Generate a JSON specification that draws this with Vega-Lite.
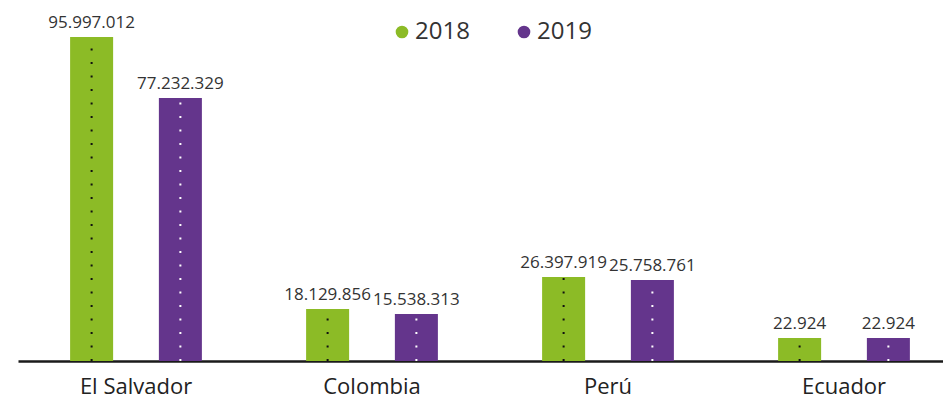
{
  "$schema": "https://vega.github.io/schema/vega-lite/v6.json",
  "width": 925,
  "height": 361,
  "autosize": {"type": "none"},
  "padding": {"left": 18, "top": 0, "right": 0, "bottom": 40},
  "config": {
    "view": {"stroke": null},
    "font": "Open Sans",
    "locale": {"number": {"decimal": ",", "thousands": ".", "grouping": [3], "currency": ["$", ""]}}
  },
  "data": {
    "values": [
      {"country": "El Salvador", "year": "2018", "value": 95997012, "bar": 96.0},
      {"country": "El Salvador", "year": "2019", "value": 77232329, "bar": 77.9},
      {"country": "Colombia", "year": "2018", "value": 18129856, "bar": 15.4},
      {"country": "Colombia", "year": "2019", "value": 15538313, "bar": 13.9},
      {"country": "Perú", "year": "2018", "value": 26397919, "bar": 24.9},
      {"country": "Perú", "year": "2019", "value": 25758761, "bar": 24.0},
      {"country": "Ecuador", "year": "2018", "value": 22924, "bar": 6.8},
      {"country": "Ecuador", "year": "2019", "value": 22924, "bar": 6.8}
    ]
  },
  "encoding": {
    "x": {
      "field": "country",
      "type": "nominal",
      "sort": null,
      "scale": {"range": [0, 944], "paddingInner": 0, "paddingOuter": 0},
      "axis": {
        "title": null,
        "labelAngle": 0,
        "ticks": false,
        "domainColor": "#1a1a1a",
        "domainWidth": 2.5,
        "labelFontSize": 22,
        "labelColor": "#222222",
        "labelPadding": 15
      }
    },
    "xOffset": {
      "field": "year",
      "type": "nominal",
      "scale": {"paddingInner": 0.5155, "paddingOuter": 0.587}
    },
    "y": {
      "field": "bar",
      "type": "quantitative",
      "scale": {"domain": [0, 106.96]},
      "axis": null
    }
  },
  "layer": [
    {
      "mark": {"type": "bar"},
      "encoding": {
        "color": {
          "field": "year",
          "type": "nominal",
          "scale": {"domain": ["2018", "2019"], "range": ["#8cbb26", "#64358c"]},
          "legend": {
            "orient": "none",
            "legendX": 372,
            "legendY": 20,
            "direction": "horizontal",
            "symbolType": "circle",
            "symbolSize": 160,
            "symbolStrokeWidth": 0,
            "labelFontSize": 24,
            "labelColor": "#333333",
            "title": null,
            "columnPadding": 42,
            "labelOffset": 1,
            "padding": 0
          }
        }
      }
    },
    {
      "mark": {"type": "rule", "strokeDash": [2, 11.5], "strokeWidth": 2},
      "encoding": {
        "y": {"datum": 0, "type": "quantitative"},
        "y2": {"field": "bar"},
        "stroke": {
          "field": "year",
          "type": "nominal",
          "scale": {"domain": ["2018", "2019"], "range": ["#111111", "#ffffff"]},
          "legend": null
        }
      }
    },
    {
      "mark": {"type": "text", "dy": -9, "baseline": "alphabetic", "fontSize": 17, "color": "#333333"},
      "encoding": {
        "text": {"field": "value", "type": "quantitative", "format": ",d"}
      }
    }
  ]
}
